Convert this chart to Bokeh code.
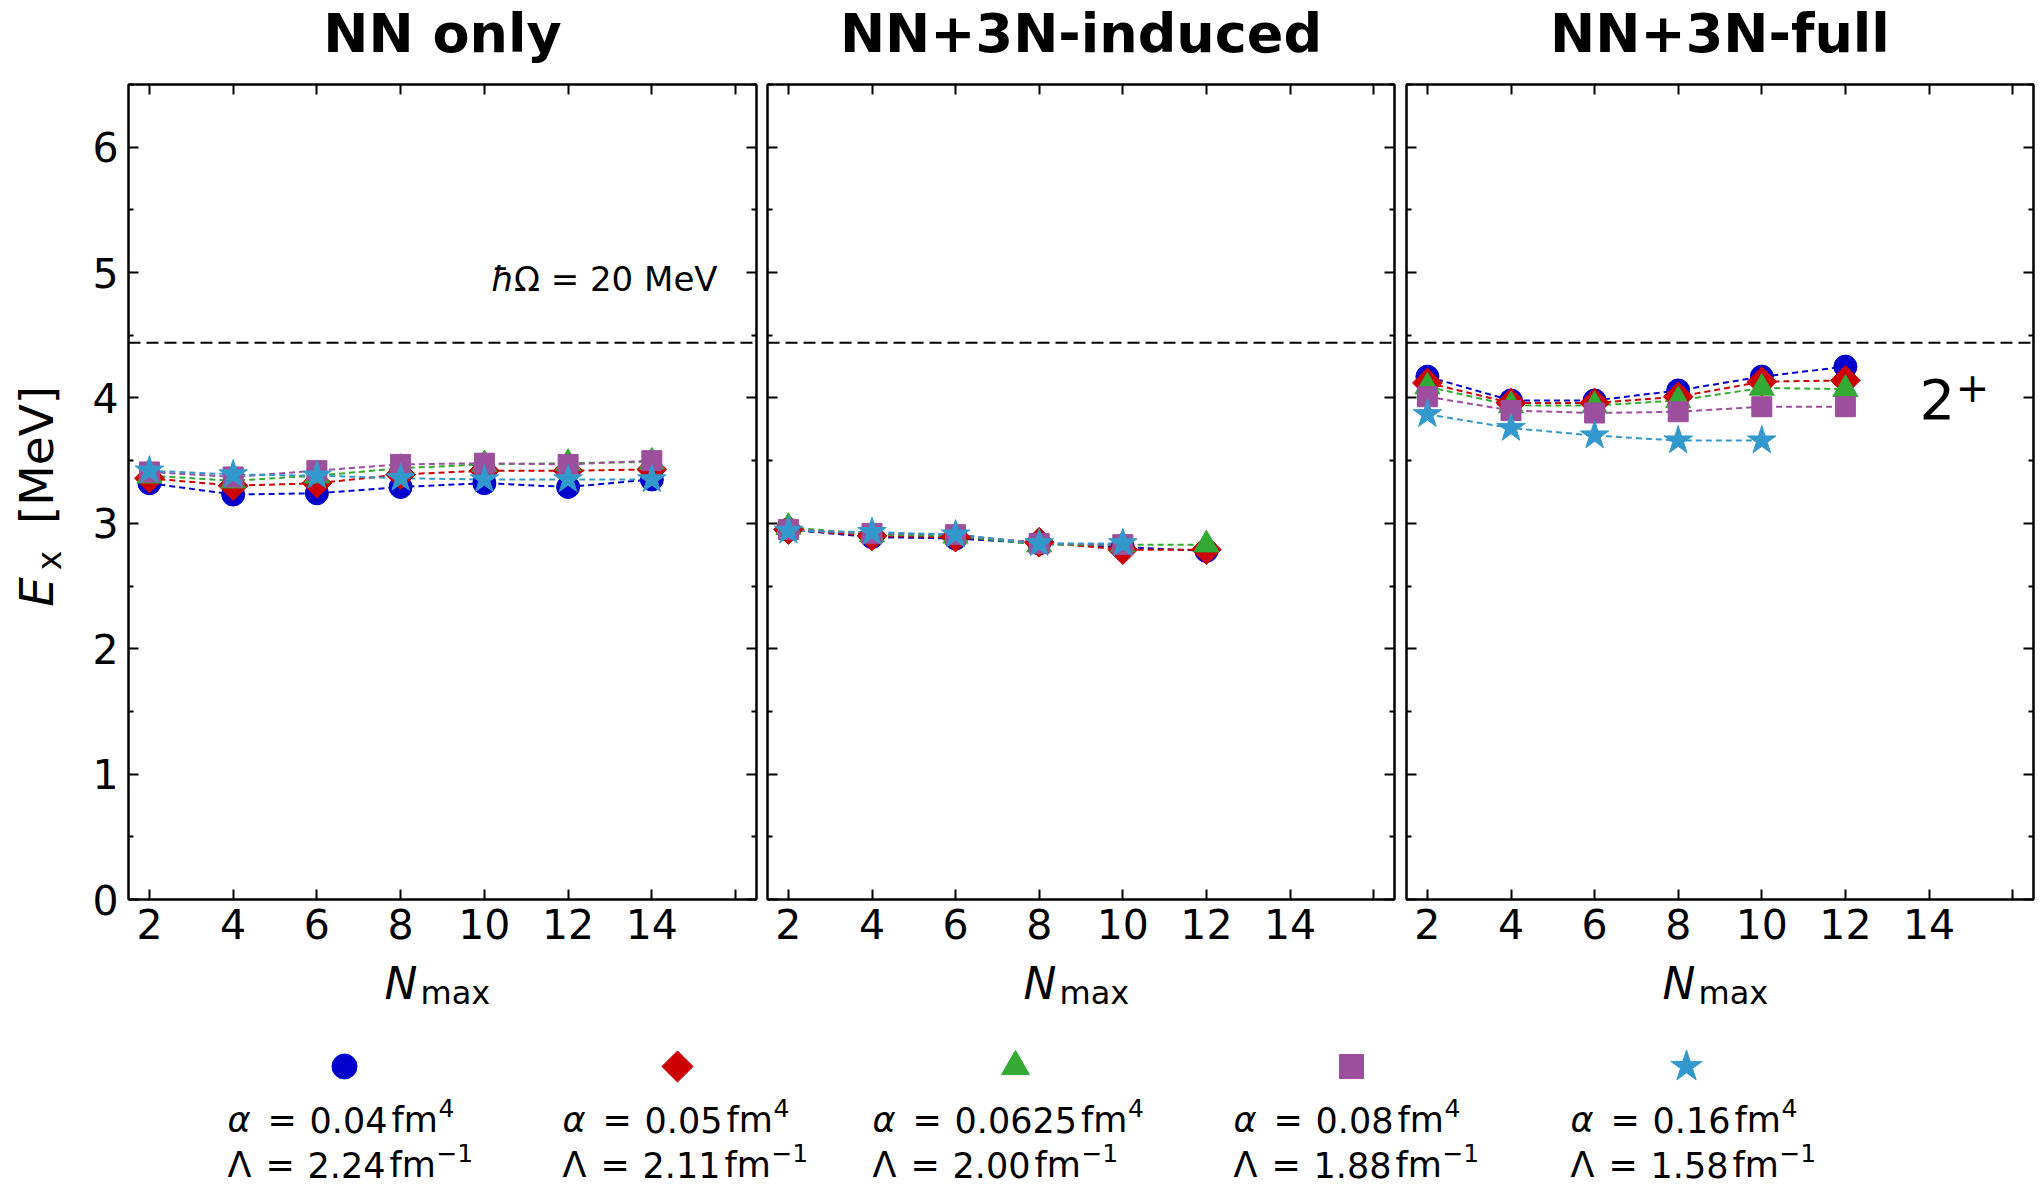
import math
from bokeh.plotting import figure
from bokeh.models import Range1d, LinearAxis, FixedTicker, Span, Label
from bokeh.layouts import row, column
from bokeh.embed import file_html
from bokeh.resources import INLINE
from bokeh.core.properties import value

# ---------------- data ----------------
panel_titles = ["NN only", "NN+3N-induced", "NN+3N-full"]
x_ticks = [2, 4, 6, 8, 10, 12, 14, 16]
y_ticks = [0, 1, 2, 3, 4, 5, 6]
y_minor = [0.5, 1.5, 2.5, 3.5, 4.5, 5.5, 6.5]
exp_2plus = 4.44

alpha_labels = ["0.04", "0.05", "0.0625", "0.08", "0.16"]
lambda_labels = ["2.24", "2.11", "2.00", "1.88", "1.58"]
series_markers = ["circle", "square", "triangle", "square", "star"]
series_angles = [0.0, math.pi / 4, 0.0, 0.0, 0.0]
series_colors = ["#0000cc", "#cc0000", "#33aa33", "#9c4f9c", "#3399cc"]

# NN only
nn_nmax = [2, 4, 6, 8, 10, 12, 14]
nn_a004 = [3.32, 3.23, 3.24, 3.29, 3.32, 3.29, 3.35]
nn_a005 = [3.36, 3.30, 3.32, 3.39, 3.42, 3.42, 3.43]
nn_a00625 = [3.38, 3.34, 3.38, 3.44, 3.47, 3.48, 3.49]
nn_a008 = [3.41, 3.37, 3.42, 3.47, 3.48, 3.47, 3.50]
nn_a016 = [3.42, 3.39, 3.38, 3.36, 3.35, 3.35, 3.35]

# NN+3N-induced
ind_nmax_12 = [2, 4, 6, 8, 10, 12]
ind_nmax_10 = [2, 4, 6, 8, 10]
ind_a004 = [2.95, 2.89, 2.88, 2.84, 2.81, 2.78]
ind_a005 = [2.95, 2.90, 2.89, 2.85, 2.79, 2.79]
ind_a00625 = [2.97, 2.91, 2.90, 2.83, 2.83, 2.83]
ind_a008 = [2.95, 2.92, 2.91, 2.84, 2.83]
ind_a016 = [2.94, 2.93, 2.91, 2.84, 2.84]

# NN+3N-full
full_nmax_12 = [2, 4, 6, 8, 10, 12]
full_nmax_10 = [2, 4, 6, 8, 10]
full_a004 = [4.17, 3.98, 3.98, 4.06, 4.17, 4.25]
full_a005 = [4.12, 3.96, 3.96, 4.01, 4.13, 4.14]
full_a00625 = [4.09, 3.94, 3.94, 3.98, 4.08, 4.07]
full_a008 = [4.01, 3.90, 3.88, 3.89, 3.93, 3.93]
full_a016 = [3.87, 3.76, 3.70, 3.66, 3.66]

panels_data = [
    [(nn_nmax, nn_a004), (nn_nmax, nn_a005), (nn_nmax, nn_a00625), (nn_nmax, nn_a008), (nn_nmax, nn_a016)],
    [(ind_nmax_12, ind_a004), (ind_nmax_12, ind_a005), (ind_nmax_12, ind_a00625), (ind_nmax_10, ind_a008), (ind_nmax_10, ind_a016)],
    [(full_nmax_12, full_a004), (full_nmax_12, full_a005), (full_nmax_12, full_a00625), (full_nmax_12, full_a008), (full_nmax_10, full_a016)],
]

# ---------------- layout / style ----------------
FONT = "DejaVu Sans"
TOTAL_W = 2036
YLAB_W = 74
FRAME_W = [628, 627, 627]
FRAME_H = 815
BORDER_L = [54, 5, 6]
BORDER_R = [6, 6, 3]
BORDER_T = 8
BORDER_B = 57
TITLE_H = 76
PANEL_H = BORDER_T + FRAME_H + BORDER_B
XLAB_TOP = TITLE_H + PANEL_H
XLAB_H = 1015 - XLAB_TOP
LEG_H = 171
TICK_FS = "41px"
marker_sizes = [23, 21, 25, 20, 30]
legend_marker_sizes = [25, 22, 28, 24, 33]

frame_left = []
acc = YLAB_W
for i in range(3):
    frame_left.append(acc + BORDER_L[i])
    acc += BORDER_L[i] + FRAME_W[i] + BORDER_R[i]


def strip(w, h):
    s = figure(width=w, height=h, x_range=Range1d(0, w), y_range=Range1d(0, h),
               x_axis_type=None, y_axis_type=None, min_border=0,
               output_backend="svg", toolbar_location=None,
               background_fill_color="white", border_fill_color="white")
    s.grid.visible = False
    s.outline_line_color = None
    return s


def style_axis(ax, is_x, show_labels):
    ax.axis_line_width = 2
    ax.axis_line_color = "black"
    ax.major_tick_in = 10
    ax.major_tick_out = 0
    ax.minor_tick_in = 5
    ax.minor_tick_out = 0
    ax.major_tick_line_width = 2
    ax.minor_tick_line_width = 2
    if is_x:
        ax.ticker = FixedTicker(ticks=x_ticks)
    else:
        ax.ticker = FixedTicker(ticks=y_ticks, minor_ticks=y_minor)
    ax.major_label_text_font = FONT
    ax.major_label_text_font_size = TICK_FS
    ax.major_label_text_color = "black"
    if show_labels:
        ax.major_label_standoff = 9 if is_x else 10
        if is_x:
            ax.major_label_overrides = {16: ""}
    else:
        ax.major_label_standoff = 0
        ax.major_label_text_font_size = "0px"
        ax.major_label_overrides = {t: "" for t in (x_ticks if is_x else y_ticks)}


figs = []
for i in range(3):
    p = figure(
        frame_width=FRAME_W[i], frame_height=FRAME_H,
        x_range=Range1d(1.5, 16.5), y_range=Range1d(0, 6.5),
        min_border_left=BORDER_L[i], min_border_right=BORDER_R[i],
        min_border_top=BORDER_T, min_border_bottom=BORDER_B,
        output_backend="svg", toolbar_location=None,
        background_fill_color="white", border_fill_color="white",
    )
    p.grid.visible = False
    p.outline_line_color = "black"
    p.outline_line_width = 2
    style_axis(p.xaxis[0], True, True)
    style_axis(p.yaxis[0], False, i == 0)
    ax_top = LinearAxis()
    style_axis(ax_top, True, False)
    p.add_layout(ax_top, "above")
    ax_right = LinearAxis()
    style_axis(ax_right, False, False)
    p.add_layout(ax_right, "right")

    p.add_layout(Span(location=exp_2plus, dimension="width", line_color="black",
                      line_width=2, line_dash="12 6"))

    for k, (xs, ys) in enumerate(panels_data[i]):
        p.line(xs, ys, line_color=series_colors[k], line_width=2, line_dash="6 4")
    for k, (xs, ys) in enumerate(panels_data[i]):
        p.scatter(xs, ys, marker=series_markers[k], size=marker_sizes[k], angle=series_angles[k],
                  fill_color=series_colors[k], line_color=series_colors[k], line_width=1)
    figs.append(p)

p1, p2, p3 = figs

# hbar Omega annotation (italic hbar)
p1.add_layout(Label(x=15.57, y=4.95, text="Ω = 20 MeV", text_font=FONT, text_font_size="34px",
                    text_align="right", text_baseline="middle", text_color="black"))
p1.add_layout(Label(x=10.72, y=4.95, text="ħ", text_font=FONT, text_font_size="34px",
                    text_font_style="italic",
                    text_align="right", text_baseline="middle", text_color="black"))

# 2+ annotation
p3.add_layout(Label(x=13.77, y=3.99, text="2", text_font=FONT, text_font_size="56px",
                    text_align="left", text_baseline="middle", text_color="black"))
p3.add_layout(Label(x=14.64, y=4.09, text="+", text_font=FONT, text_font_size="40px",
                    text_align="left", text_baseline="middle", text_color="black"))

# ---------------- title strip ----------------
title_strip = strip(TOTAL_W, TITLE_H)
title_strip.text([frame_left[i] + FRAME_W[i] / 2 for i in range(3)], [TITLE_H - 33] * 3,
                 text=panel_titles, text_font=value(FONT), text_font_size="54px",
                 text_font_style="bold", text_align="center", text_baseline="middle",
                 text_color="black")

# ---------------- y label strip ----------------
ylab = strip(YLAB_W, PANEL_H)


def ystrip(canvas_y):
    return TITLE_H + PANEL_H - canvas_y


ylab.text([36], [ystrip(624)], text=["E"], angle=math.pi / 2, text_font=value(FONT),
          text_font_size="47px", text_font_style="italic", text_align="center",
          text_baseline="middle", text_color="black")
ylab.text([49], [ystrip(590)], text=["x"], angle=math.pi / 2, text_font=value(FONT),
          text_font_size="33px", text_align="center", text_baseline="middle", text_color="black")
ylab.text([36], [ystrip(476)], text=["[MeV]"], angle=math.pi / 2, text_font=value(FONT),
          text_font_size="47px", text_align="center", text_baseline="middle", text_color="black")

# ---------------- x label strip ----------------
xlab = strip(TOTAL_W, XLAB_H)
XLAB_BOTTOM = XLAB_TOP + XLAB_H
xlab.text([fl + 256 for fl in frame_left], [XLAB_BOTTOM - 983] * 3, text=["N"] * 3,
          text_font=value(FONT), text_font_size="44px", text_font_style="italic",
          text_align="left", text_baseline="middle", text_color="black")
xlab.text([fl + 292 for fl in frame_left], [XLAB_BOTTOM - 992] * 3, text=["max"] * 3,
          text_font=value(FONT), text_font_size="32px",
          text_align="left", text_baseline="middle", text_color="black")

# ---------------- legend strip ----------------
leg = strip(TOTAL_W, LEG_H)
LEG_FS = 35
SUP_FS = 25
ADV = {c: 0.636 for c in "0123456789"}
ADV["."] = 0.318


def adv_w(s, fs):
    return sum(ADV[c] for c in s) * fs


legend_marker_x = [344, 677, 1015, 1351, 1686]
legend_text_x = [227, 562, 872, 1233, 1570]
y_mark, y_l1, y_l2 = 120, 67, 22
for k in range(5):
    x0 = legend_text_x[k]
    leg.scatter([legend_marker_x[k]], [y_mark], marker=series_markers[k], angle=series_angles[k],
                size=legend_marker_sizes[k], fill_color=series_colors[k], line_color=series_colors[k])
    # line 1: alpha = ... fm^4
    wa = adv_w(alpha_labels[k], LEG_FS)
    x_fm = x0 + 82 + wa + 4
    leg.text([x0], [y_l1], text=["α"], text_font=value(FONT), text_font_size=f"{LEG_FS}px",
             text_font_style="italic", text_baseline="middle", text_color="black")
    leg.text([x0 + 40, x0 + 82, x_fm], [y_l1] * 3, text=["=", alpha_labels[k], "fm"],
             text_font=value(FONT), text_font_size=f"{LEG_FS}px",
             text_baseline="middle", text_color="black")
    leg.text([x_fm + 47], [y_l1 + 12], text=["4"], text_font=value(FONT),
             text_font_size=f"{SUP_FS}px", text_baseline="middle", text_color="black")
    # line 2: Lambda = ... fm^-1
    wl = adv_w(lambda_labels[k], LEG_FS)
    x_fm2 = x0 + 80 + wl + 4
    leg.text([x0, x0 + 38, x0 + 80, x_fm2], [y_l2] * 4, text=["Λ", "=", lambda_labels[k], "fm"],
             text_font=value(FONT), text_font_size=f"{LEG_FS}px",
             text_baseline="middle", text_color="black")
    leg.text([x_fm2 + 47], [y_l2 + 12], text=["−1"], text_font=value(FONT),
             text_font_size=f"{SUP_FS}px", text_baseline="middle", text_color="black")

layout = column(title_strip, row(ylab, p1, p2, p3), xlab, leg)
open("out.html", "w").write(file_html(layout, INLINE))
